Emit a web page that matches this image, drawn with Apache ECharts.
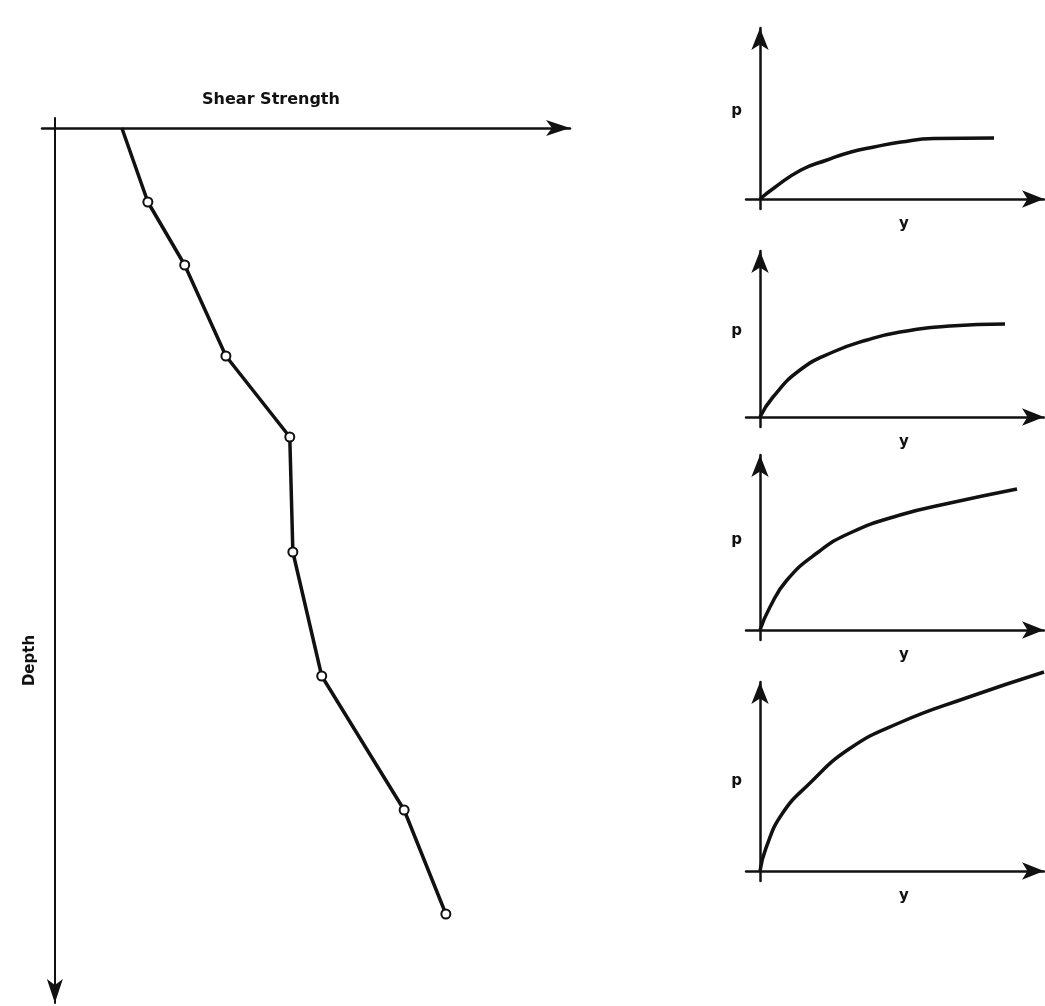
<!DOCTYPE html>
<html lang="en">
  <head>
    <meta charset="UTF-8" />
    <title>Shear strength profile and p-y curves</title>
    <script src="https://cdn.jsdelivr.net/npm/echarts@6/dist/echarts.min.js"></script>
    <style>
      html, body { margin: 0; padding: 0; background: #fff; }
    </style>
  </head>
  <body>
    <div id="main" style="width: 1045px; height: 1006px"></div>
    <script type="text/javascript">
      // shear strength profile, [strength, depth]; first point has no marker
      const profileStrength = [13.0, 18.05, 25.2, 33.2, 45.6, 46.2, 51.8, 67.8, 75.9];
      const profileDepth = [0, 7.4, 13.7, 22.8, 30.9, 42.4, 54.8, 68.2, 78.6];

      // p-y curves, one per depth, top to bottom
      const curveY1 = [0, 1.4, 4.1, 6.7, 9.1, 11.4, 14.1, 17.4, 23.4];
      const curveP1 = [0, 1.1, 2.9, 3.9, 4.7, 5.2, 5.7, 6.05, 6.1];
      const curveY2 = [0, 1.3, 4.0, 7.3, 10.7, 14.0, 19.0, 24.5];
      const curveP2 = [0, 2.0, 4.7, 6.5, 7.7, 8.5, 9.1, 9.3];
      const curveY3 = [0, 1.0, 2.7, 5.7, 9.0, 14.0, 19.0, 25.7];
      const curveP3 = [0, 2.3, 5.0, 7.7, 9.7, 11.5, 12.7, 14.1];
      const curveY4 = [0, 0.6, 2.2, 4.9, 8.9, 13.9, 20.6, 28.4];
      const curveP4 = [0, 2.3, 5.7, 8.7, 12.2, 14.8, 17.3, 19.9];

      const chart = echarts.init(document.getElementById('main'));
      const ink = '#111';
      const font = { color: ink, fontFamily: 'DejaVu Sans', fontWeight: 'bold' };

      function axisLine(width, size, symbol) {
        return {
          onZero: true,
          symbol: symbol || ['none', 'arrow'],
          symbolSize: size,
          lineStyle: { color: ink, width: width }
        };
      }
      const hidden = {
        axisTick: { show: false },
        axisLabel: { show: false },
        splitLine: { show: false }
      };

      // small panels: [top, bottom] in px and p max
      const panels = [
        { top: 28, bottom: 209, pMax: 17.1, ys: curveY1, ps: curveP1, pAlign: 'bottom' },
        { top: 251, bottom: 427, pMax: 16.6, ys: curveY2, ps: curveP2, pAlign: 'bottom' },
        { top: 455, bottom: 640, pMax: 17.5, ys: curveY3, ps: curveP3, pAlign: 'bottom' },
        { top: 682, bottom: 881, pMax: 18.9, ys: curveY4, ps: curveP4, pAlign: 'middle' }
      ];

      const grid = [{ left: 42, top: 118, width: 528, height: 885, outerBoundsMode: 'none' }];
      const xAxis = [Object.assign({
        gridIndex: 0,
        type: 'value',
        position: 'top',
        min: -2.5,
        max: 100,
        axisLine: axisLine(2.5, [12, 24]),
        name: 'Shear Strength',
        nameLocation: 'middle',
        nameGap: 10,
        nameTextStyle: Object.assign({ fontSize: 16, padding: [0, 70, 0, 0] }, font)
      }, hidden)];
      const yAxis = [Object.assign({
        gridIndex: 0,
        type: 'value',
        inverse: true,
        min: -1,
        max: 87.5,
        axisLine: axisLine(2, [12, 24], ['arrow', 'none']),
        name: 'Depth',
        nameLocation: 'middle',
        nameGap: 4,
        nameTextStyle: Object.assign({ fontSize: 15, padding: [0, 200, 0, 0] }, font)
      }, hidden)];
      const series = [{
        type: 'line',
        xAxisIndex: 0,
        yAxisIndex: 0,
        data: profileStrength.map((s, i) => i === 0
          ? { value: [s, profileDepth[i]], symbol: 'none' }
          : [s, profileDepth[i]]),
        symbol: 'circle',
        symbolSize: 9,
        lineStyle: { color: ink, width: 3.5 },
        itemStyle: { color: '#fff', borderColor: ink, borderWidth: 2 },
        silent: true,
        animation: false
      }];

      panels.forEach((pn, k) => {
        const idx = k + 1;
        grid.push({ left: 746, width: 298, top: pn.top, height: pn.bottom - pn.top, outerBoundsMode: 'none' });
        xAxis.push(Object.assign({
          gridIndex: idx,
          type: 'value',
          min: -1.4,
          max: 28.4,
          axisLine: axisLine(2.5, [13, 22]),
          name: 'y',
          nameLocation: 'middle',
          nameGap: 8,
          nameTextStyle: Object.assign({ fontSize: 15, padding: [0, 0, 0, 18] }, font)
        }, hidden));
        yAxis.push(Object.assign({
          gridIndex: idx,
          type: 'value',
          min: -1,
          max: pn.pMax,
          axisLine: axisLine(2.5, [13, 22]),
          name: 'p',
          nameLocation: 'middle',
          nameRotate: 0,
          nameGap: 4,
          nameTextStyle: Object.assign({ fontSize: 15, verticalAlign: pn.pAlign }, font)
        }, hidden));
        series.push({
          type: 'line',
          xAxisIndex: idx,
          yAxisIndex: idx,
          data: pn.ys.map((y, i) => [y, pn.ps[i]]),
          showSymbol: false,
          smooth: 0.5,
          clip: false,
          lineStyle: { color: ink, width: 3.5 },
          silent: true,
          animation: false
        });
      });

      chart.setOption({
        animation: false,
        backgroundColor: '#fff',
        grid: grid,
        xAxis: xAxis,
        yAxis: yAxis,
        series: series
      });
    </script>
  </body>
</html>
